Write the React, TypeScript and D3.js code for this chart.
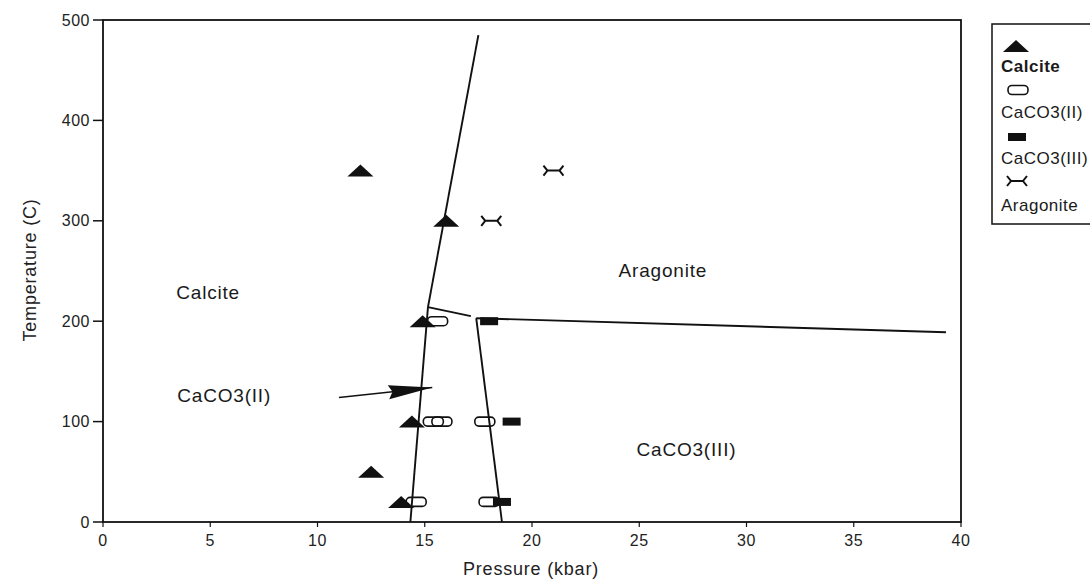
import React from 'react';
import * as d3 from 'd3';

// tick values
const xTicks = [0, 5, 10, 15, 20, 25, 30, 35, 40];
const yTicks = [0, 100, 200, 300, 400, 500];

// measured points [pressure kbar, temperature C]
const calcite = [[12, 350], [16, 300], [14.9, 200], [14.4, 100], [12.5, 50], [13.9, 20]];
const caco3II = [[15.6, 200], [15.4, 100], [15.8, 100], [17.8, 100], [14.6, 20], [18.0, 20]];
const caco3III = [[18.0, 200], [19.05, 100], [18.6, 20]];
const aragonite = [[21, 350], [18.1, 300]];

// phase boundaries
const boundaries = [
  [[14.33, 0], [15.15, 214]],
  [[15.15, 214], [17.5, 485]],
  [[15.15, 214], [17.15, 205]],
  [[17.4, 203], [39.3, 189]],
  [[17.4, 203], [18.6, 0]],
];
const arrowLine = [[11.0, 124], [15.35, 134]];

const regionLabels = [
  { text: 'Calcite', p: 4.9, t: 229 },
  { text: 'Aragonite', p: 26.1, t: 251 },
  { text: 'CaCO3(II)', p: 5.65, t: 126 },
  { text: 'CaCO3(III)', p: 27.2, t: 72 },
];

const legendItems = ['Calcite', 'CaCO3(II)', 'CaCO3(III)', 'Aragonite'];

const INK = '#111';
const FONT = '"Liberation Sans", Arial, sans-serif';

const x = d3.scaleLinear().domain([0, 40]).range([103, 961]);
const y = d3.scaleLinear().domain([0, 500]).range([522, 20]);

const Triangle = ({ cx, cy }) => (
  <path d={`M${cx - 13},${cy + 6}L${cx},${cy - 6}L${cx + 13},${cy + 6}Z`} fill={INK} />
);
const OpenRect = ({ cx, cy }) => (
  <rect x={cx - 10} y={cy - 4.5} width={20} height={9} rx={4} fill="none" stroke={INK} strokeWidth={1.6} />
);
const FilledRect = ({ cx, cy }) => (
  <rect x={cx - 9} y={cy - 4} width={18} height={8} fill={INK} />
);
const Bowtie = ({ cx, cy }) => (
  <path
    d={`M${cx - 7},${cy}L${cx + 7},${cy}M${cx - 10},${cy - 5}L${cx - 6},${cy}L${cx - 10},${cy + 5}M${cx + 10},${cy - 5}L${cx + 6},${cy}L${cx + 10},${cy + 5}`}
    fill="none" stroke={INK} strokeWidth={2}
  />
);

const line = d3.line().x(d => x(d[0])).y(d => y(d[1]));

export default function App() {
  // arrow head in pixel space
  const ax0 = x(arrowLine[0][0]), ay0 = y(arrowLine[0][1]);
  const ax1 = x(arrowLine[1][0]), ay1 = y(arrowLine[1][1]);
  const len = Math.hypot(ax1 - ax0, ay1 - ay0);
  const ux = (ax1 - ax0) / len, uy = (ay1 - ay0) / len;
  const bx = ax1 - ux * 44, by = ay1 - uy * 44;
  const head = `M${ax1},${ay1}L${bx - uy * 7},${by + ux * 7}L${bx + ux * 4},${by + uy * 4}L${bx + uy * 7},${by - ux * 7}Z`;

  const legendY = [46, 66, 90, 112, 137, 158, 181, 205];

  return (
    <svg width={1090} height={582} style={{ position: 'absolute', left: 0, top: 0, background: '#fff' }} fontFamily={FONT}>
      {/* frame */}
      <rect x={x(0)} y={y(500)} width={x(40) - x(0)} height={y(0) - y(500)} fill="none" stroke={INK} strokeWidth={1.8} />

      {/* y axis */}
      {yTicks.map(t => (
        <g key={t}>
          <line x1={x(0) - 10} x2={x(0)} y1={y(t)} y2={y(t)} stroke={INK} strokeWidth={1.5} />
          <text x={x(0) - 13} y={y(t)} dy="0.35em" textAnchor="end" fontSize={16} letterSpacing={0.5} fill="#222">{t}</text>
        </g>
      ))}
      {/* x axis */}
      {xTicks.map(p => (
        <g key={p}>
          <line x1={x(p)} x2={x(p)} y1={y(0)} y2={y(0) + 5} stroke={INK} strokeWidth={1.2} />
          <text x={x(p)} y={y(0) + 24} textAnchor="middle" fontSize={16} letterSpacing={0.5} fill="#222">{p}</text>
        </g>
      ))}
      <text x={531} y={575} textAnchor="middle" fontSize={18} letterSpacing={0.8} fill="#222">Pressure  (kbar)</text>
      <text transform="translate(36,270) rotate(-90)" textAnchor="middle" fontSize={18} letterSpacing={0.8} fill="#222">Temperature  (C)</text>

      {/* boundaries */}
      {boundaries.map((b, i) => (
        <path key={i} d={line(b)} fill="none" stroke={INK} strokeWidth={1.9} />
      ))}
      <path d={line(arrowLine)} fill="none" stroke={INK} strokeWidth={1.6} />
      <path d={head} fill={INK} />

      {/* region labels */}
      {regionLabels.map(l => (
        <text key={l.text} x={x(l.p)} y={y(l.t)} dy="0.35em" textAnchor="middle" fontSize={19} letterSpacing={0.8} fill="#1a1a1a">{l.text}</text>
      ))}

      {/* points */}
      {caco3II.map((d, i) => <OpenRect key={'o' + i} cx={x(d[0])} cy={y(d[1])} />)}
      {caco3III.map((d, i) => <FilledRect key={'f' + i} cx={x(d[0])} cy={y(d[1])} />)}
      {calcite.map((d, i) => <Triangle key={'t' + i} cx={x(d[0])} cy={y(d[1])} />)}
      {aragonite.map((d, i) => <Bowtie key={'b' + i} cx={x(d[0])} cy={y(d[1])} />)}

      {/* legend */}
      <rect x={992} y={24} width={110} height={200} fill="none" stroke={INK} strokeWidth={1.5} />
      <Triangle cx={1016} cy={legendY[0]} />
      <OpenRect cx={1018} cy={legendY[2]} />
      <FilledRect cx={1017} cy={legendY[4]} />
      <Bowtie cx={1017} cy={legendY[6]} />
      {legendItems.map((name, i) => (
        <text key={name} x={1001} y={legendY[i * 2 + 1]} dy="0.35em" fontSize={17} letterSpacing={0.5} fontWeight={i === 0 ? 'bold' : 'normal'} fill="#1a1a1a">{name}</text>
      ))}
    </svg>
  );
}
